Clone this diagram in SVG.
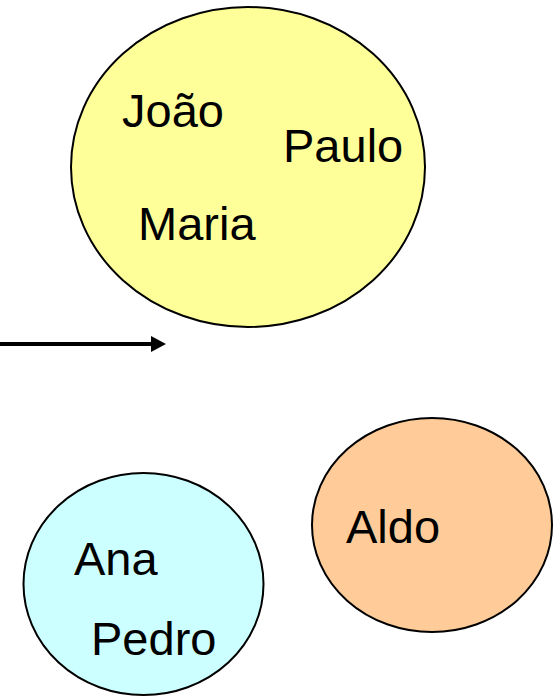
<svg xmlns="http://www.w3.org/2000/svg" width="555" height="696" viewBox="0 0 555 696">
<style>
.set{stroke:#000;stroke-width:2}
.lbl{font-family:"Liberation Sans",Arial,sans-serif;font-size:47px;fill:#000}
</style>
<defs>
<marker id="ah" markerWidth="16" markerHeight="18" refX="15" refY="8" orient="auto" markerUnits="userSpaceOnUse">
<path d="M0,0 L15,8 L0,16 Z" fill="#000"/>
</marker>
</defs>
<rect width="555" height="696" fill="#fff"/>
<g id="set-yellow">
<ellipse class="set" cx="248" cy="167" rx="177" ry="160" fill="#ffff99"/>
<text class="lbl" x="122" y="127">João</text>
<text class="lbl" x="283" y="162">Paulo</text>
<text class="lbl" x="138" y="240">Maria</text>
</g>
<g id="set-cyan">
<ellipse class="set" cx="143.5" cy="584" rx="120" ry="111" fill="#ccffff"/>
<text class="lbl" x="74" y="575">Ana</text>
<text class="lbl" x="91" y="655">Pedro</text>
</g>
<g id="set-orange">
<ellipse class="set" cx="432" cy="525" rx="120" ry="107" fill="#ffcc99"/>
<text class="lbl" x="346" y="543">Aldo</text>
</g>
<g id="connectors">
<line x1="0" y1="344" x2="160" y2="344" stroke="#000" stroke-width="4"/>
<path d="M151,336 L166,344 L151,352 Z" fill="#000"/>
</g>
</svg>
